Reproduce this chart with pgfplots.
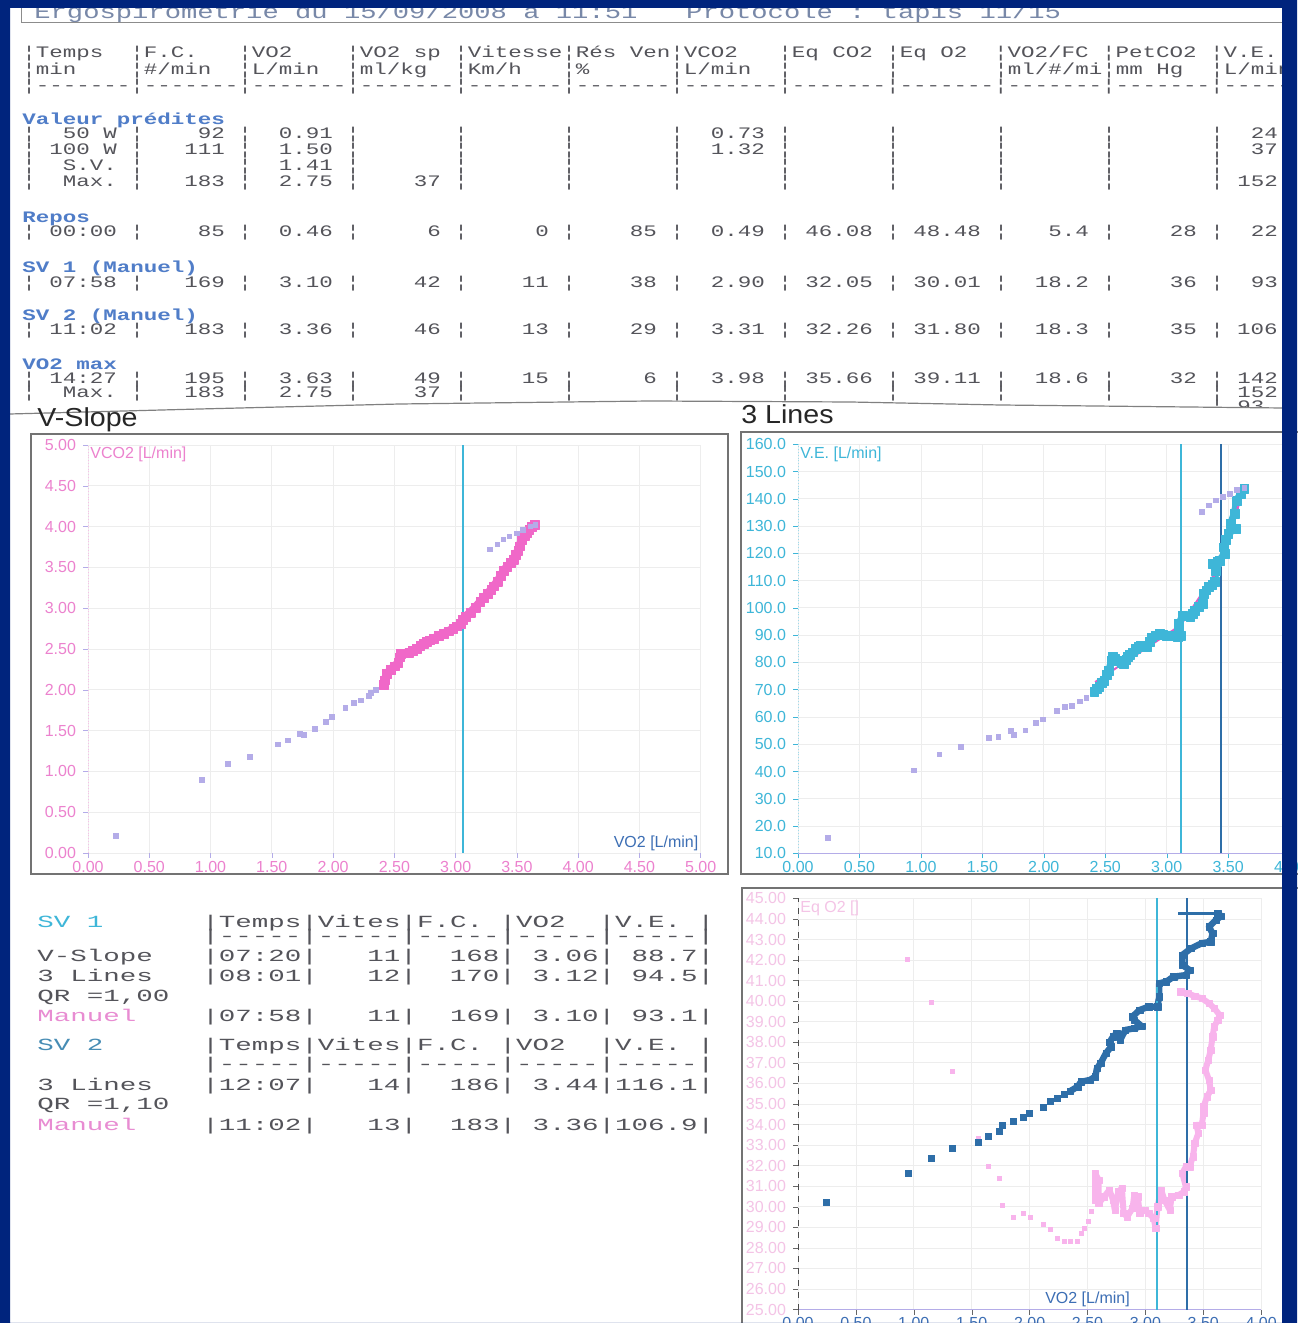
\documentclass[border=0pt]{standalone}
\usepackage{fontspec}
\setmainfont{Liberation Sans}
\newfontfamily\mono{Liberation Mono}[Ligatures=TeXOff]
\usepackage{graphicx}
\usepackage{pgfplots}
\pgfplotsset{compat=1.18}
\definecolor{navy}{RGB}{0,36,125}
\definecolor{txt}{RGB}{84,84,90}
\definecolor{titlec}{RGB}{120,136,168}
\definecolor{lblue}{RGB}{80,125,200}
\definecolor{hpink}{RGB}{240,104,200}
\definecolor{lav}{RGB}{180,172,232}
\definecolor{cyanl}{RGB}{62,182,216}
\definecolor{dteal}{RGB}{46,110,168}
\definecolor{lpink}{RGB}{248,180,236}
\definecolor{mag}{RGB}{224,90,196}
\definecolor{tickpink}{RGB}{236,130,206}
\definecolor{ticklpink}{RGB}{244,196,230}
\definecolor{vblue}{RGB}{60,110,180}
\definecolor{sv2c}{RGB}{70,140,180}
\definecolor{mpink}{RGB}{232,140,210}
\newcommand\TL[4]{\node[anchor=base west,inner sep=0pt,text=#3] at (#1,#2) {\scalebox{1.406}[1]{\mono\fontsize{8pt}{9pt}\selectfont\frenchspacing #4}};}
\newcommand\BL[4]{\node[anchor=base west,inner sep=0pt,text=#3] at (#1,#2) {\scalebox{1.618}[1]{\mono\fontsize{8.5pt}{9pt}\selectfont\frenchspacing #4}};}
\pgfplotsset{chart/.style={scale only axis, anchor=south west, axis line style={draw=none},
  tick align=outside, tick pos=left, major tick length=2.5pt, grid=major, grid style={black!7},
  tick label style={font=\fontsize{8pt}{8pt}\selectfont}, xticklabel style={yshift=2pt}}}
\begin{document}
\begin{tikzpicture}
\useasboundingbox (0,0) rectangle (648.5pt,661.5pt);
\fill[navy] (0,0) rectangle (648.5pt,661.5pt);
\begin{scope}[shift={(0,661.5pt)}, x=0.5pt, y=-0.5pt]
\fill[white] (10,8) rectangle (1282,1323);
\node[anchor=base west,inner sep=0pt,text=titlec] at (34,19) {\scalebox{1.358}[1]{\mono\fontsize{10pt}{12pt}\selectfont\frenchspacing Ergospirometrie~du~15/09/2008~à~11:51~~~Protocole~:~tapis~11/15}};
\draw[black!45, line width=0.5pt] (21,6) -- (21,23) -- (1282,23);
\TL{22}{58}{txt}{¦Temps~~¦F.C.~~~¦VO2~~~~¦VO2~sp~¦Vitesse¦Rés~Ven¦VCO2~~~¦Eq~CO2~¦Eq~O2~~¦VO2/FC~¦PetCO2~¦V.E.}
\TL{22}{75}{txt}{¦min~~~~¦\#/min~~¦L/min~~¦ml/kg~~¦Km/h~~~¦\%~~~~~~¦L/min~~¦~~~~~~~¦~~~~~~~¦ml/\#/mi¦mm~Hg~~¦L/min}
\TL{22}{91}{txt}{¦-------¦-------¦-------¦-------¦-------¦-------¦-------¦-------¦-------¦-------¦-------¦-----}
\TL{22}{125}{lblue}{\bfseries Valeur~prédites}
\TL{22}{139}{txt}{¦~~50~W~¦~~~~92~¦~~0.91~¦~~~~~~~¦~~~~~~~¦~~~~~~~¦~~0.73~¦~~~~~~~¦~~~~~~~¦~~~~~~~¦~~~~~~~¦~~24}
\TL{22}{155}{txt}{¦~100~W~¦~~~111~¦~~1.50~¦~~~~~~~¦~~~~~~~¦~~~~~~~¦~~1.32~¦~~~~~~~¦~~~~~~~¦~~~~~~~¦~~~~~~~¦~~37}
\TL{22}{171}{txt}{¦~~S.V.~¦~~~~~~~¦~~1.41~¦~~~~~~~¦~~~~~~~¦~~~~~~~¦~~~~~~~¦~~~~~~~¦~~~~~~~¦~~~~~~~¦~~~~~~~¦}
\TL{22}{187}{txt}{¦~~Max.~¦~~~183~¦~~2.75~¦~~~~37~¦~~~~~~~¦~~~~~~~¦~~~~~~~¦~~~~~~~¦~~~~~~~¦~~~~~~~¦~~~~~~~¦~152}
\TL{22}{223}{lblue}{\bfseries Repos}
\TL{22}{237}{txt}{¦~00:00~¦~~~~85~¦~~0.46~¦~~~~~6~¦~~~~~0~¦~~~~85~¦~~0.49~¦~46.08~¦~48.48~¦~~~5.4~¦~~~~28~¦~~22}
\TL{22}{273}{lblue}{\bfseries SV~1~(Manuel)}
\TL{22}{288}{txt}{¦~07:58~¦~~~169~¦~~3.10~¦~~~~42~¦~~~~11~¦~~~~38~¦~~2.90~¦~32.05~¦~30.01~¦~~18.2~¦~~~~36~¦~~93}
\TL{22}{321}{lblue}{\bfseries SV~2~(Manuel)}
\TL{22}{335}{txt}{¦~11:02~¦~~~183~¦~~3.36~¦~~~~46~¦~~~~13~¦~~~~29~¦~~3.31~¦~32.26~¦~31.80~¦~~18.3~¦~~~~35~¦~106}
\TL{22}{370}{lblue}{\bfseries VO2~max}
\TL{22}{384}{txt}{¦~14:27~¦~~~195~¦~~3.63~¦~~~~49~¦~~~~15~¦~~~~~6~¦~~3.98~¦~35.66~¦~39.11~¦~~18.6~¦~~~~32~¦~142}
\TL{22}{398}{txt}{¦~~Max.~¦~~~183~¦~~2.75~¦~~~~37~¦~~~~~~~¦~~~~~~~¦~~~~~~~¦~~~~~~~¦~~~~~~~¦~~~~~~~¦~~~~~~~¦~152}
\TL{1210}{412}{txt}{¦~93.}
\fill[white] (10,414) -- (200,409) -- (400,404) -- (650,401) -- (850,402) -- (1000,405) -- (1282,408) -- (1282,440) -- (10,440) -- cycle;
\draw[black!50, line width=0.6pt] (10,414) -- (200,409) -- (400,404) -- (650,401) -- (850,402) -- (1000,405) -- (1282,408);
\node[anchor=base west,inner sep=0pt,text=black!85] at (37,427) {\scalebox{1.1}[1]{\fontsize{13pt}{13pt}\selectfont V-Slope}};
\node[anchor=base west,inner sep=0pt,text=black!85] at (741,424) {\scalebox{1.1}[1]{\fontsize{13pt}{13pt}\selectfont 3 Lines}};
\draw[black!55, line width=0.6pt] (31,434) rectangle (728,874);
\draw[black!55, line width=0.6pt] (741,432) rectangle (1300,874);
\draw[black!55, line width=0.6pt] (742,888) rectangle (1300,1340);
\BL{37}{928}{txt}{\textcolor{cyanl}{SV~1}~~~~~~|Temps|Vites|F.C.~|VO2~~|V.E.~|}
\BL{37}{942}{txt}{~~~~~~~~~~|-----|-----|-----|-----|-----|}
\BL{37}{962}{txt}{V-Slope~~~|07:20|~~~11|~~168|~3.06|~88.7|}
\BL{37}{982}{txt}{3~Lines~~~|08:01|~~~12|~~170|~3.12|~94.5|}
\BL{37}{1002}{txt}{QR~=1,00}
\BL{37}{1022}{txt}{\textcolor{mpink}{Manuel}~~~~|07:58|~~~11|~~169|~3.10|~93.1|}
\BL{37}{1051}{txt}{\textcolor{sv2c}{SV~2}~~~~~~|Temps|Vites|F.C.~|VO2~~|V.E.~|}
\BL{37}{1070}{txt}{~~~~~~~~~~|-----|-----|-----|-----|-----|}
\BL{37}{1091}{txt}{3~Lines~~~|12:07|~~~14|~~186|~3.44|116.1|}
\BL{37}{1110}{txt}{QR~=1,10}
\BL{37}{1131}{txt}{\textcolor{mpink}{Manuel}~~~~|11:02|~~~13|~~183|~3.36|106.9|}
\end{scope}

% ---------------- V-Slope
\begin{axis}[chart, at={(44pt,235pt)}, width=306.35pt, height=204pt,
  xmin=0, xmax=5, ymin=0, ymax=5,
  xtick={0,0.5,1,1.5,2,2.5,3,3.5,4,4.5,5}, ytick={0,0.5,1,1.5,2,2.5,3,3.5,4,4.5,5},
  xticklabels={0.00,0.50,1.00,1.50,2.00,2.50,3.00,3.50,4.00,4.50,5.00},
  yticklabels={0.00,0.50,1.00,1.50,2.00,2.50,3.00,3.50,4.00,4.50,5.00},
  tick label style={text=tickpink}, tick style={lav}]
\draw[lav] (axis cs:0,0) -- (axis cs:5,0);
\draw[tickpink!50, densely dotted] (axis cs:0,0) -- (axis cs:0,5);
\addplot[only marks, mark=square*, mark size=1.2pt, color=lav] coordinates {
(0.23,0.21)(0.93,0.90)(1.14,1.09)(1.32,1.18)(1.55,1.33)(1.63,1.38)(1.73,1.46)(1.76,1.45)(1.85,1.52)(1.94,1.61)(1.99,1.67)(2.10,1.78)(2.17,1.84)(2.23,1.87)(2.29,1.93)(2.31,1.96)(2.35,2.00)};
\addplot[color=hpink, line width=4pt, line join=round, line cap=round, mark=square*, mark size=2.2pt, mark options={line width=0.1pt}] coordinates {
(2.41,2.06)(2.42,2.12)(2.44,2.20)(2.47,2.25)(2.50,2.29)(2.53,2.33)(2.54,2.40)(2.55,2.44)(2.58,2.45)(2.62,2.46)(2.65,2.48)(2.68,2.50)(2.71,2.54)(2.74,2.57)(2.76,2.59)(2.79,2.61)(2.82,2.63)(2.86,2.66)(2.90,2.69)(2.94,2.72)(2.98,2.75)(3.01,2.78)(3.04,2.81)(3.06,2.86)(3.08,2.90)(3.12,2.95)(3.16,3.01)(3.20,3.08)(3.23,3.13)(3.26,3.18)(3.29,3.23)(3.31,3.27)(3.34,3.33)(3.37,3.40)(3.39,3.46)(3.42,3.51)(3.45,3.56)(3.47,3.60)(3.49,3.66)(3.51,3.71)(3.52,3.76)(3.54,3.84)(3.56,3.89)(3.58,3.92)(3.60,3.96)(3.62,4.00)(3.645,4.02)};
\addplot[only marks, mark=square*, mark size=1.1pt, color=lav] coordinates {
(3.65,4.02)(3.61,4.00)(3.55,3.96)(3.50,3.92)(3.44,3.88)(3.39,3.84)(3.34,3.78)(3.28,3.72)};
\addplot[color=cyanl, line width=1pt] coordinates {(3.06,0)(3.06,5)};
\node[anchor=north west, text=tickpink, font=\fontsize{8pt}{8pt}\selectfont, inner sep=1pt] at (axis cs:0,5) {VCO2 [L/min]};
\node[anchor=south east, text=vblue, font=\fontsize{8pt}{8pt}\selectfont, inner sep=1pt] at (axis cs:5,0) {VO2 [L/min]};
\end{axis}

% ---------------- 3 Lines
\begin{axis}[chart, at={(399pt,234.85pt)}, width=245.8pt, height=204.5pt,
  xmin=0, xmax=4, ymin=10, ymax=160,
  xtick={0,0.5,1,1.5,2,2.5,3,3.5,4}, ytick={10,20,30,40,50,60,70,80,90,100,110,120,130,140,150,160},
  xticklabels={0.00,0.50,1.00,1.50,2.00,2.50,3.00,3.50,4.00},
  yticklabels={10.0,20.0,30.0,40.0,50.0,60.0,70.0,80.0,90.0,100.0,110.0,120.0,130.0,140.0,150.0,160.0},
  tick label style={text=cyanl}, tick style={cyanl}]
\draw[lav] (axis cs:0,10) -- (axis cs:4,10);
\draw[cyanl!50, densely dotted] (axis cs:0,10) -- (axis cs:0,160);
\addplot[only marks, mark=square*, mark size=1.2pt, color=lav] coordinates {
(0.242,15.6)(0.945,40.4)(1.150,46.3)(1.323,49.0)(1.552,52.3)(1.630,52.6)(1.731,54.8)(1.754,53.5)(1.850,55.1)(1.933,57.8)(1.991,59.1)(2.109,62.1)(2.172,63.6)(2.228,64.0)(2.291,65.7)(2.347,66.9)};
\addplot[color=cyanl, line width=3.5pt, line join=round, line cap=round, mark=square*, mark size=2.2pt, mark options={line width=0.1pt}] coordinates {
(2.41,69.2)(2.43,70.5)(2.45,71.0)(2.47,72.5)(2.49,73.4)(2.51,75.5)(2.53,77.1)(2.55,80.8)(2.56,82.0)(2.58,81.5)(2.61,80.8)(2.63,80.0)(2.65,79.6)(2.67,81.0)(2.68,82.0)(2.70,83.0)(2.72,83.8)(2.75,85.0)(2.77,85.7)(2.79,86.3)(2.82,86.0)(2.84,85.7)(2.86,87.5)(2.88,89.3)(2.91,90.0)(2.94,90.6)(2.97,90.3)(3.00,89.9)(3.03,90.0)(3.06,89.9)(3.09,89.5)(3.11,89.9)(3.10,92.0)(3.10,94.2)(3.13,97.3)(3.16,97.0)(3.19,96.7)(3.21,98.0)(3.23,99.1)(3.26,100.5)(3.29,101.6)(3.30,105.2)(3.32,106.5)(3.34,107.7)(3.37,108.5)(3.39,109.5)(3.40,113.8)(3.37,116.2)(3.41,117.0)(3.43,117.4)(3.47,119.9)(3.46,122.3)(3.48,125.0)(3.50,127.2)(3.56,129.1)(3.52,130.9)(3.55,134.6)(3.57,139.4)(3.60,141.9)(3.63,143.7)};
\addplot[only marks, mark=square*, mark size=1.2pt, color=lav] coordinates {
(3.632,144.1)(3.574,143.4)(3.517,141.9)(3.459,140.7)(3.401,139.4)(3.343,137.6)(3.286,135.2)};
\addplot[color=mag, line width=1pt] coordinates {(2.418,72.8)(3.112,93.6)(3.416,113.8)(3.627,143.7)};
\addplot[color=cyanl, line width=1pt] coordinates {(3.12,10)(3.12,160)};
\addplot[color=dteal, line width=1pt] coordinates {(3.44,10)(3.44,160)};
\node[anchor=north west, text=cyanl, font=\fontsize{8pt}{8pt}\selectfont, inner sep=1pt] at (axis cs:0,160) {V.E. [L/min]};
\end{axis}

% ---------------- Eq O2
\begin{axis}[chart, at={(399pt,6.7pt)}, width=231.6pt, height=205.6pt,
  xmin=0, xmax=4, ymin=25, ymax=45,
  xtick={0,0.5,1,1.5,2,2.5,3,3.5,4}, ytick={25,26,...,45},
  xticklabels={0.00,0.50,1.00,1.50,2.00,2.50,3.00,3.50,4.00},
  yticklabels={25.00,26.00,27.00,28.00,29.00,30.00,31.00,32.00,33.00,34.00,35.00,36.00,37.00,38.00,39.00,40.00,41.00,42.00,43.00,44.00,45.00},
  xticklabel style={text=vblue}, yticklabel style={text=ticklpink}, tick style={black!60}]
\draw[lav] (axis cs:0,25) -- (axis cs:4,25);
\draw[black!70, dashed] (axis cs:0,25) -- (axis cs:0,45);
\addplot[only marks, mark=square*, mark size=1pt, color=lpink] coordinates {
(0.941,42.01)(1.149,39.95)(1.331,36.60)(1.561,33.33)(1.643,31.95)(1.742,31.39)(1.769,30.09)(1.858,29.49)(1.944,29.68)(2.003,29.49)(2.116,29.16)(2.180,28.92)(2.238,28.47)(2.297,28.30)(2.352,28.30)(2.414,28.30)(2.444,28.71)(2.475,28.95)(2.505,29.28)(2.535,29.76)};
\addplot[color=lpink, line width=3pt, line join=round, line cap=round, mark=square*, mark size=1.6pt, mark options={line width=0.1pt}] coordinates {
(2.566,30.33)(2.566,30.82)(2.566,31.63)(2.597,31.30)(2.597,30.17)(2.643,30.49)(2.689,30.82)(2.720,30.33)(2.736,29.84)(2.766,30.73)(2.797,30.90)(2.812,29.68)(2.843,29.52)(2.889,29.93)(2.904,30.57)(2.935,30.49)(2.950,29.68)(2.996,29.84)(3.027,29.68)(3.072,29.44)(3.088,28.95)(3.104,30.00)(3.135,30.82)(3.165,30.33)(3.211,29.84)(3.226,30.49)(3.287,30.57)(3.333,30.73)(3.349,30.98)(3.319,31.63)(3.349,31.95)(3.380,31.95)(3.411,32.44)(3.426,33.09)(3.457,33.58)(3.441,33.98)(3.487,33.98)(3.502,34.55)(3.502,34.87)(3.533,35.36)(3.564,35.68)(3.549,36.17)(3.518,36.65)(3.543,37.14)(3.564,37.63)(3.580,38.27)(3.594,38.76)(3.625,39.09)(3.641,39.33)(3.594,39.66)(3.549,39.90)(3.487,40.14)(3.426,40.25)(3.365,40.38)(3.303,40.46)};
\addplot[only marks, mark=square*, mark size=1.5pt, color=dteal] coordinates {
(0.244,30.20)(0.950,31.61)(1.155,32.33)(1.333,32.83)(1.560,33.15)(1.643,33.40)(1.742,33.65)(1.769,33.94)(1.858,34.16)(1.944,34.37)(2.002,34.56)(2.116,34.85)(2.180,35.11)(2.238,35.26)(2.297,35.49)};
\addplot[color=dteal, line width=3.2pt, line join=round, line cap=round, mark=square*, mark size=1.6pt, mark options={line width=0.1pt}] coordinates {
(2.352,35.63)(2.414,35.84)(2.444,36.08)(2.521,36.17)(2.567,36.33)(2.582,36.74)(2.613,36.98)(2.659,37.47)(2.705,37.79)(2.690,38.00)(2.720,38.27)(2.751,38.44)(2.782,38.11)(2.827,38.60)(2.904,38.68)(2.966,38.79)(2.904,39.09)(2.888,39.25)(2.950,39.57)(3.027,39.73)(3.104,39.73)(3.119,40.22)(3.119,40.87)(3.180,40.95)(3.242,41.19)(3.349,41.27)(3.380,41.52)(3.319,41.76)(3.319,42.25)(3.395,42.57)(3.487,42.82)(3.564,42.89)(3.580,43.30)(3.549,43.62)(3.610,43.95)(3.655,44.14)(3.625,44.27)};
\addplot[color=dteal, line width=1.5pt] coordinates {(3.625,44.27)(3.55,44.27)(3.45,44.27)(3.35,44.27)(3.279,44.27)};
\addplot[color=cyanl, line width=1pt] coordinates {(3.10,25)(3.10,45)};
\addplot[color=dteal, line width=1pt] coordinates {(3.36,25)(3.36,45)};
\node[anchor=north west, text=ticklpink, font=\fontsize{8pt}{8pt}\selectfont, inner sep=1pt] at (axis cs:0,45) {Eq O2 []};
\node[anchor=south, text=vblue, font=\fontsize{8pt}{8pt}\selectfont, inner sep=1pt] at (axis cs:2.5,25) {VO2 [L/min]};
\end{axis}

\fill[navy, even odd rule] (0,0) rectangle (648.5pt,661.5pt) (5pt,-1pt) rectangle (641pt,657.5pt);
\end{tikzpicture}
\end{document}
